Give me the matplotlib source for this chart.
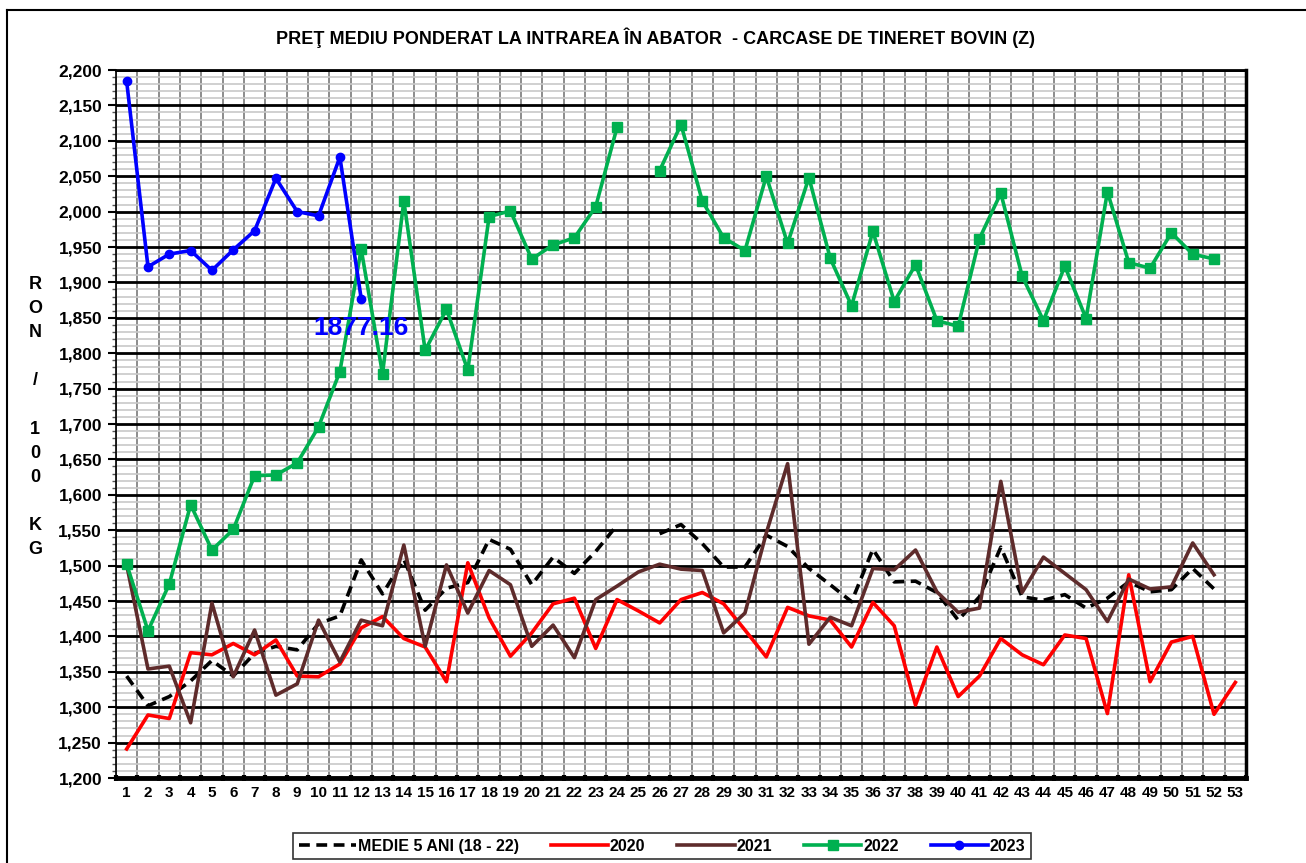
import numpy as np
import matplotlib
matplotlib.use('Agg')
import matplotlib.pyplot as plt
from matplotlib.ticker import MultipleLocator, FixedLocator, StrMethodFormatter
from matplotlib.lines import Line2D

# week numbers 1..53
weeks = list(range(1, 54))
nan = np.nan

# 5 year average (2018 - 2022), week 25 missing
medie_5ani = [1344, 1302, 1315, 1337, 1366, 1344, 1376, 1386, 1381, 1418,
              1429, 1508, 1460, 1509, 1437, 1468, 1476, 1537, 1523, 1473,
              1512, 1489, 1520, 1557, nan, 1545, 1558, 1531, 1498, 1498,
              1543, 1527, 1496, 1473, 1449, 1523, 1477, 1478, 1462, 1423,
              1456, 1526, 1456, 1451, 1459, 1440, 1454, 1477, 1463, 1466,
              1496, 1467, nan]

pret_2020 = [1241, 1289, 1284, 1377, 1374, 1390, 1374, 1395, 1344, 1343,
             1361, 1412, 1428, 1397, 1385, 1336, 1504, 1426, 1372, 1405,
             1446, 1454, 1383, 1452, 1436, 1419, 1452, 1462, 1446, 1409,
             1371, 1441, 1429, 1423, 1385, 1448, 1415, 1303, 1385, 1315,
             1344, 1397, 1374, 1360, 1402, 1397, 1291, 1487, 1336, 1392,
             1400, 1290, 1335]

pret_2021 = [1501, 1354, 1358, 1278, 1447, 1343, 1409, 1317, 1333, 1423,
             1364, 1423, 1415, 1529, 1386, 1501, 1433, 1493, 1473, 1386,
             1416, 1370, 1452, 1471, 1491, 1502, 1495, 1493, 1405, 1433,
             1546, 1644, 1389, 1427, 1415, 1496, 1494, 1522, 1463, 1434,
             1440, 1619, 1462, 1512, 1489, 1466, 1421, 1481, 1467, 1470,
             1532, 1487, nan]

pret_2022 = [1502, 1408, 1474, 1586, 1522, 1551, 1627, 1628, 1645, 1696,
             1774, 1947, 1771, 2015, 1804, 1862, 1776, 1993, 2001, 1933,
             1953, 1963, 2007, 2119, nan, 2058, 2123, 2015, 1963, 1945,
             2050, 1955, 2048, 1934, 1867, 1972, 1873, 1925, 1846, 1838,
             1962, 2026, 1909, 1846, 1923, 1849, 2028, 1928, 1920, 1970,
             1940, 1933, nan]

pret_2023 = [2184, 1922, 1940, 1945, 1917, 1946, 1973, 2047, 2000, 1994,
             2077, 1877.16]

titlu = 'PREŢ MEDIU PONDERAT LA INTRAREA ÎN ABATOR  - CARCASE DE TINERET BOVIN (Z)'

plt.rcParams['font.family'] = ['Liberation Sans', 'DejaVu Sans']

W, H = 1306, 863
fig = plt.figure(figsize=(W / 100, H / 100), dpi=100)
ax = fig.add_axes([116 / W, (H - 778) / H, (1246 - 116) / W, (778 - 70) / H])

lw = 2.6
ax.plot(weeks, medie_5ani, color='black', lw=lw, ls=(0, (3, 1.8)), label='MEDIE 5 ANI (18 - 22)', zorder=4)
ax.plot(weeks, pret_2020, color='#ff0000', lw=lw, label='2020', zorder=5)
ax.plot(weeks, pret_2021, color='#5e2b2b', lw=lw, label='2021', zorder=5)
ax.plot(weeks, pret_2022, color='#00b050', lw=lw, marker='s', ms=6.5, label='2022', zorder=6)
ax.plot(weeks[:len(pret_2023)], pret_2023, color='#0000ff', lw=lw, marker='o', ms=6, label='2023', zorder=7)

# data label on the last 2023 point
ax.annotate('%.2f' % pret_2023[-1], (len(pret_2023), pret_2023[-1]), xytext=(0, -21),
            textcoords='offset points', ha='center', va='center', color='#0000ff',
            fontsize=19, fontweight='bold', zorder=8)

ax.set_xlim(0.5, 53.5)
ax.set_ylim(1200, 2200)

# grid: category boundaries vertical, 50 major / 10 minor horizontal
ax.xaxis.set_major_locator(FixedLocator(np.arange(0.5, 54, 1)))
ax.xaxis.set_major_formatter(plt.NullFormatter())
ax.set_xticks(weeks, [str(w) for w in weeks], minor=True)
ax.yaxis.set_major_locator(MultipleLocator(50))
ax.yaxis.set_minor_locator(MultipleLocator(10))
ax.yaxis.set_major_formatter(StrMethodFormatter('{x:,.0f}'))

ax.grid(True, axis='x', which='major', color='#8c8c8c', lw=1.4)
ax.grid(True, axis='y', which='minor', color='#c8c8c8', lw=1.2)
ax.grid(True, axis='y', which='major', color='black', lw=2.0)
ax.set_axisbelow(True)

ax.tick_params(axis='x', which='major', direction='inout', length=5, width=3, color='black')
ax.tick_params(axis='x', which='minor', length=0, pad=6, labelsize=11)
ax.tick_params(axis='y', which='major', length=6, width=1.5, labelsize=12.5, pad=4)
ax.tick_params(axis='y', which='minor', length=3, width=1, color='#555555')
for lab in ax.get_xticklabels(minor=True) + ax.get_yticklabels():
    lab.set_fontweight('bold')

for side, w in [('left', 1.2), ('top', 2.0), ('right', 2.5), ('bottom', 3.5)]:
    ax.spines[side].set_linewidth(w)
    ax.spines[side].set_color('black')

fig.text(655 / W, 1 - 38 / H, titlu, ha='center', va='center', fontsize=13, fontweight='bold')
fig.text(35 / W, 1 - 417 / H, 'R\nO\nN\n\n/\n\n1\n0\n0\n\nK\nG', ha='center', va='center',
         fontsize=13, fontweight='bold', linespacing=1.54)

# outer chart frame (left and top edges visible)
fig.add_artist(Line2D([7 / W, 7 / W], [0, 1 - 10 / H], color='black', lw=1.5))
fig.add_artist(Line2D([7 / W, 1], [1 - 10 / H, 1 - 10 / H], color='black', lw=1.5))

leg = fig.legend(loc='center', bbox_to_anchor=(662 / W, 1 - 846 / H), ncol=5, frameon=True,
                 fancybox=False, edgecolor='black', handlelength=3.6, columnspacing=2.0,
                 handletextpad=0.1, borderpad=0.35,
                 prop={'family': ['Liberation Sans Narrow', 'Liberation Sans'], 'weight': 'bold', 'size': 11.5})
leg.get_frame().set_linewidth(1.2)

fig.savefig('out.png', dpi=100)
